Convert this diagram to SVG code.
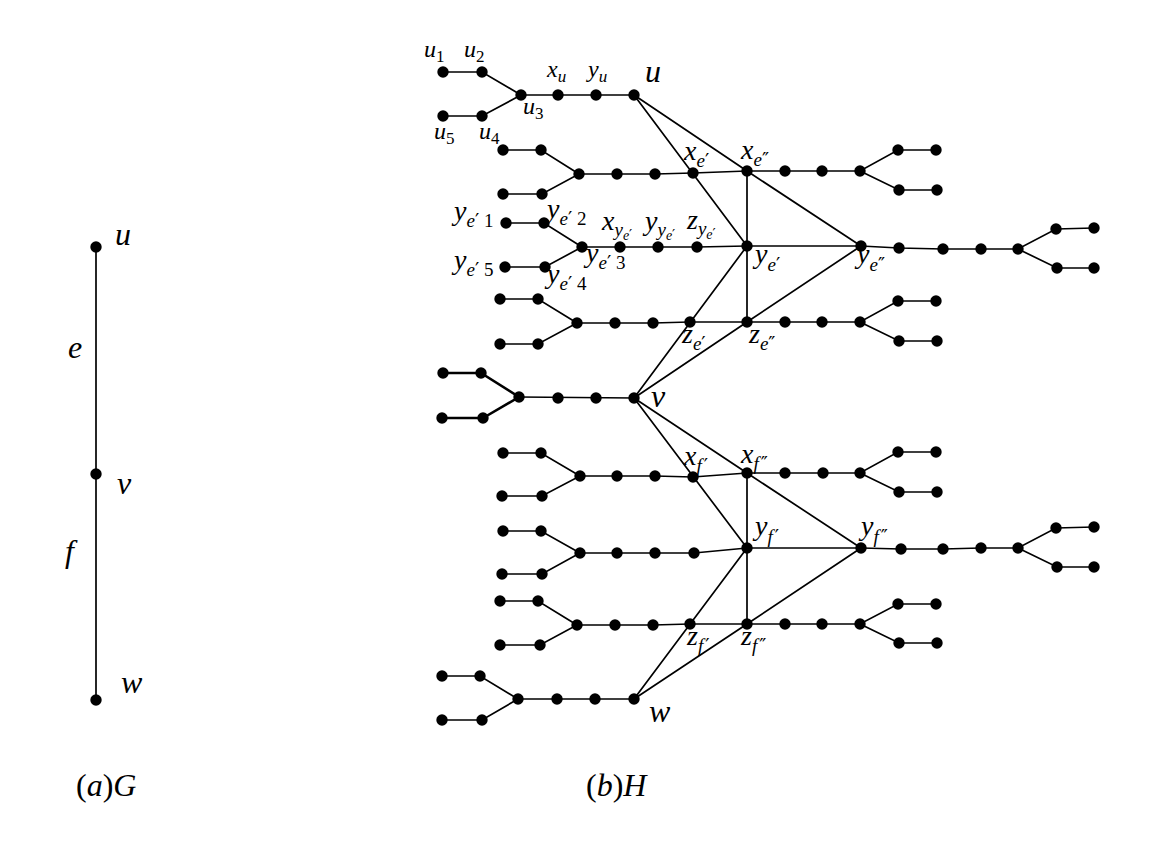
<svg xmlns="http://www.w3.org/2000/svg" width="1164" height="853" viewBox="0 0 1164 853">
<style>
.e{stroke:#000;stroke-width:1.7;fill:none;stroke-linecap:round}
.t{stroke-width:2.6}
.n{fill:#000}
.l{font-family:"Liberation Serif","DejaVu Serif",serif;font-style:italic;fill:#000;font-size:28px}
.b{font-size:32px}
.s{font-size:24px}
.sb{font-size:19px}
.ss{font-size:17px}
.sss{font-size:14px}
.u{font-style:normal}
.p{font-family:"DejaVu Serif",serif;font-style:normal}
</style>
<rect width="1164" height="853" fill="#fff"/>
<defs><circle id="d" r="5.7" class="n"/></defs>

<!-- (a) G -->
<g id="G-edges"><path class="e" d="M96,247V700"/></g>
<g id="G-u"><use href="#d" x="96" y="247"/><text class="l b" x="115" y="245">u</text></g>
<g id="G-v"><use href="#d" x="96" y="474"/><text class="l b" x="117" y="494">v</text></g>
<g id="G-w"><use href="#d" x="96" y="700"/><text class="l b" x="121" y="693">w</text></g>
<text class="l b" x="68" y="358">e</text>
<text class="l b" x="65" y="562">f</text>
<text class="l b" x="76" y="796"><tspan class="u">(</tspan>a<tspan class="u">)</tspan>G</text>

<!-- (b) H connectors -->
<g id="connectors" class="e">
<path d="M443,72H482L521,95L482,116H443M521,95H634"/>
<path d="M503,150H541L579,174L542,194H503M579,174H655L693,173L747,171H860L898,150H936M860,171L899,190H937"/>
<path d="M506,223H544L582,247L545,267H505M582,247H697L747,246H861L899,248L943,249H1018L1056,229L1094,228M1018,249L1057,268H1094"/>
<path d="M500,299H538L577,323L538,344H500M577,323H653L690,322H860L898,301H936M860,322L899,341H937"/>
<path class="t" d="M443,373H481L519,397L483,418H442"/>
<path d="M519,397L634,398"/>
<path d="M503,453H541L580,476L542,496H502M580,476H655L693,477L747,473H860L898,452H936M860,473L899,492H937"/>
<path d="M503,531H541L580,553L542,574H502M580,553H694L747,548H861L901,549H943L981,548H1018L1056,528L1094,527M1018,548L1057,567H1094"/>
<path d="M500,601H538L577,625L540,645H500M577,625H653L690,624H860L898,604H936M860,624L899,643H937"/>
<path d="M442,676H480L518,699L482,720H442M518,699H634"/>
<path d="M634,95L747,246M634,95L747,171M747,171V322M747,171L861,246M747,322L861,246M747,246L634,398M747,322L634,398"/>
<path d="M634,398L747,548M634,398L747,473M747,473V624M747,473L861,548M747,624L861,548M747,548L634,699M747,624L634,699"/>
</g>

<!-- nodes -->
<g id="u1"><use href="#d" x="443" y="72"/><text class="l s" x="424" y="57">u<tspan class="ss u" dy="5">1</tspan></text></g>
<g id="u2"><use href="#d" x="482" y="72"/><text class="l s" x="464" y="57">u<tspan class="ss u" dy="5">2</tspan></text></g>
<g id="u3"><use href="#d" x="521" y="95"/><text class="l s" x="523" y="114">u<tspan class="ss u" dy="5">3</tspan></text></g>
<g id="u4"><use href="#d" x="482" y="116"/><text class="l s" x="479" y="139">u<tspan class="ss u" dy="5">4</tspan></text></g>
<g id="u5"><use href="#d" x="443" y="116"/><text class="l s" x="434" y="139">u<tspan class="ss u" dy="5">5</tspan></text></g>
<g id="xu"><use href="#d" x="558" y="95"/><text class="l s" x="547" y="77">x<tspan class="ss" dy="5">u</tspan></text></g>
<g id="yu"><use href="#d" x="596" y="95"/><text class="l s" x="588" y="77">y<tspan class="ss" dy="5">u</tspan></text></g>
<g id="u"><use href="#d" x="634" y="95"/><text class="l b" x="645" y="82">u</text></g>

<g id="row-xe-left"><use href="#d" x="503" y="150"/><use href="#d" x="541" y="150"/><use href="#d" x="503" y="194"/><use href="#d" x="542" y="194"/><use href="#d" x="579" y="174"/><use href="#d" x="617" y="174"/><use href="#d" x="655" y="174"/></g>
<g id="xe1"><use href="#d" x="693" y="173"/><text class="l" x="684" y="160">x<tspan class="sb" dy="7">e<tspan class="p">′</tspan></tspan></text></g>
<g id="xe2"><use href="#d" x="747" y="171"/><text class="l" x="741" y="159">x<tspan class="sb" dy="7">e<tspan class="p">″</tspan></tspan></text></g>
<g id="row-xe-right"><use href="#d" x="785" y="171"/><use href="#d" x="822" y="171"/><use href="#d" x="860" y="171"/><use href="#d" x="898" y="150"/><use href="#d" x="936" y="150"/><use href="#d" x="899" y="190"/><use href="#d" x="937" y="190"/></g>

<g id="ye1-1"><use href="#d" x="506" y="223"/><text class="l" x="454" y="220">y<tspan class="sb" dy="7">e<tspan class="p">′</tspan><tspan class="u"> 1</tspan></tspan></text></g>
<g id="ye1-2"><use href="#d" x="544" y="223"/><text class="l" x="547" y="218">y<tspan class="sb" dy="7">e<tspan class="p">′</tspan><tspan class="u"> 2</tspan></tspan></text></g>
<g id="ye1-3"><use href="#d" x="582" y="247"/><text class="l" x="586" y="262">y<tspan class="sb" dy="7">e<tspan class="p">′</tspan><tspan class="u"> 3</tspan></tspan></text></g>
<g id="ye1-4"><use href="#d" x="545" y="267"/><text class="l" x="547" y="283">y<tspan class="sb" dy="7">e<tspan class="p">′</tspan><tspan class="u"> 4</tspan></tspan></text></g>
<g id="ye1-5"><use href="#d" x="505" y="267"/><text class="l" x="454" y="269">y<tspan class="sb" dy="7">e<tspan class="p">′</tspan><tspan class="u"> 5</tspan></tspan></text></g>
<g id="x-ye"><use href="#d" x="620" y="247"/><text class="l" x="602" y="230">x<tspan class="sb" dy="6">y<tspan class="sss" dy="4">e<tspan class="p">′</tspan></tspan></tspan></text></g>
<g id="y-ye"><use href="#d" x="658" y="247"/><text class="l" x="645" y="230">y<tspan class="sb" dy="6">y<tspan class="sss" dy="4">e<tspan class="p">′</tspan></tspan></tspan></text></g>
<g id="z-ye"><use href="#d" x="697" y="247"/><text class="l" x="687" y="229">z<tspan class="sb" dy="6">y<tspan class="sss" dy="4">e<tspan class="p">′</tspan></tspan></tspan></text></g>
<g id="ye1"><use href="#d" x="747" y="246"/><text class="l" x="755" y="263">y<tspan class="sb" dy="8">e<tspan class="p">′</tspan></tspan></text></g>
<g id="ye2"><use href="#d" x="861" y="246"/><text class="l" x="857" y="263">y<tspan class="sb" dy="8">e<tspan class="p">″</tspan></tspan></text></g>
<g id="row-ye-right"><use href="#d" x="899" y="248"/><use href="#d" x="943" y="249"/><use href="#d" x="981" y="249"/><use href="#d" x="1018" y="249"/><use href="#d" x="1056" y="229"/><use href="#d" x="1094" y="228"/><use href="#d" x="1057" y="268"/><use href="#d" x="1094" y="268"/></g>

<g id="row-ze-left"><use href="#d" x="500" y="299"/><use href="#d" x="538" y="299"/><use href="#d" x="500" y="344"/><use href="#d" x="538" y="344"/><use href="#d" x="577" y="323"/><use href="#d" x="615" y="323"/><use href="#d" x="653" y="323"/></g>
<g id="ze1"><use href="#d" x="690" y="322"/><text class="l" x="682" y="343">z<tspan class="sb" dy="7">e<tspan class="p">′</tspan></tspan></text></g>
<g id="ze2"><use href="#d" x="747" y="322"/><text class="l" x="749" y="343">z<tspan class="sb" dy="7">e<tspan class="p">″</tspan></tspan></text></g>
<g id="row-ze-right"><use href="#d" x="785" y="322"/><use href="#d" x="822" y="322"/><use href="#d" x="860" y="322"/><use href="#d" x="898" y="301"/><use href="#d" x="936" y="301"/><use href="#d" x="899" y="341"/><use href="#d" x="937" y="341"/></g>

<g id="row-v-left"><use href="#d" x="443" y="373"/><use href="#d" x="481" y="373"/><use href="#d" x="442" y="418"/><use href="#d" x="483" y="418"/><use href="#d" x="519" y="397"/><use href="#d" x="558" y="398"/><use href="#d" x="596" y="398"/></g>
<g id="v"><use href="#d" x="634" y="398"/><text class="l b" x="651" y="407">v</text></g>

<g id="row-xf-left"><use href="#d" x="503" y="453"/><use href="#d" x="541" y="453"/><use href="#d" x="502" y="496"/><use href="#d" x="542" y="496"/><use href="#d" x="580" y="476"/><use href="#d" x="617" y="476"/><use href="#d" x="655" y="476"/></g>
<g id="xf1"><use href="#d" x="693" y="477"/><text class="l" x="684" y="465">x<tspan class="sb" dy="7">f<tspan class="p" dx="2">′</tspan></tspan></text></g>
<g id="xf2"><use href="#d" x="747" y="473"/><text class="l" x="741" y="463">x<tspan class="sb" dy="7">f<tspan class="p" dx="2">″</tspan></tspan></text></g>
<g id="row-xf-right"><use href="#d" x="785" y="473"/><use href="#d" x="823" y="473"/><use href="#d" x="860" y="473"/><use href="#d" x="898" y="452"/><use href="#d" x="936" y="452"/><use href="#d" x="899" y="492"/><use href="#d" x="937" y="492"/></g>

<g id="row-yf-left"><use href="#d" x="503" y="531"/><use href="#d" x="541" y="531"/><use href="#d" x="502" y="574"/><use href="#d" x="542" y="574"/><use href="#d" x="580" y="553"/><use href="#d" x="617" y="553"/><use href="#d" x="655" y="553"/><use href="#d" x="694" y="553"/></g>
<g id="yf1"><use href="#d" x="747" y="548"/><text class="l" x="755" y="535">y<tspan class="sb" dy="8">f<tspan class="p" dx="2">′</tspan></tspan></text></g>
<g id="yf2"><use href="#d" x="861" y="548"/><text class="l" x="861" y="535">y<tspan class="sb" dy="8">f<tspan class="p" dx="2">″</tspan></tspan></text></g>
<g id="row-yf-right"><use href="#d" x="901" y="549"/><use href="#d" x="943" y="549"/><use href="#d" x="981" y="548"/><use href="#d" x="1018" y="548"/><use href="#d" x="1056" y="528"/><use href="#d" x="1094" y="527"/><use href="#d" x="1057" y="567"/><use href="#d" x="1094" y="567"/></g>

<g id="row-zf-left"><use href="#d" x="500" y="601"/><use href="#d" x="538" y="601"/><use href="#d" x="500" y="645"/><use href="#d" x="540" y="645"/><use href="#d" x="577" y="625"/><use href="#d" x="615" y="625"/><use href="#d" x="653" y="625"/></g>
<g id="zf1"><use href="#d" x="690" y="624"/><text class="l" x="687" y="645">z<tspan class="sb" dy="7">f<tspan class="p" dx="2">′</tspan></tspan></text></g>
<g id="zf2"><use href="#d" x="747" y="624"/><text class="l" x="741" y="645">z<tspan class="sb" dy="7">f<tspan class="p" dx="2">″</tspan></tspan></text></g>
<g id="row-zf-right"><use href="#d" x="785" y="624"/><use href="#d" x="822" y="624"/><use href="#d" x="860" y="624"/><use href="#d" x="898" y="604"/><use href="#d" x="936" y="604"/><use href="#d" x="899" y="643"/><use href="#d" x="937" y="643"/></g>

<g id="row-w-left"><use href="#d" x="442" y="676"/><use href="#d" x="480" y="676"/><use href="#d" x="442" y="720"/><use href="#d" x="482" y="720"/><use href="#d" x="518" y="699"/><use href="#d" x="557" y="699"/><use href="#d" x="595" y="699"/></g>
<g id="w"><use href="#d" x="634" y="699"/><text class="l b" x="649" y="722">w</text></g>

<text class="l b" x="586" y="796"><tspan class="u">(</tspan>b<tspan class="u">)</tspan>H</text>
</svg>
